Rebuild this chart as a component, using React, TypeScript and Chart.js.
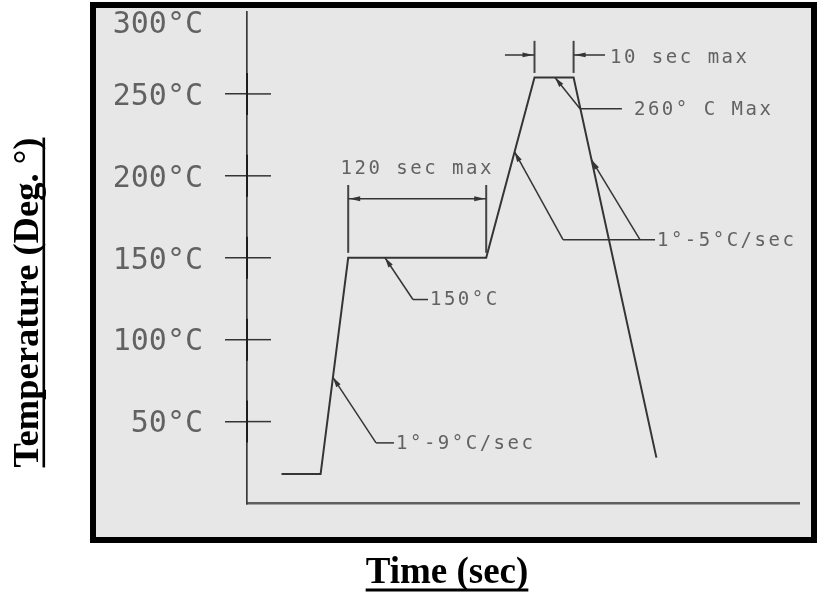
import React, { useEffect, useRef } from 'react';
import { Chart, registerables } from 'chart.js';

Chart.register(...registerables);

// ---- data ----
const timeSec = [30, 64, 88, 208, 250, 284, 356];
const tempC = [18, 18, 150, 150, 260, 260, 28];
const yTickValues = [0, 50, 100, 150, 200, 250, 300];
const yTickLabels = ['', '50°C', '100°C', '150°C', '200°C', '250°C', '300°C'];
const xTitle = 'Time (sec)';
const yTitle = 'Temperature (Deg. °)';

// leader annotations (data coordinates: [time, temp])
const leaderLabels = ['1°-9°C/sec', '150°C', '260° C Max', '1°-5°C/sec'];
const leaderTips: [number, number][][] = [
  [[74.7, 77]],
  [[120, 150]],
  [[267.8, 260]],
  [[232.7, 214.6], [299.6, 209.7]],
];
const leaderElbows: [number, number][][] = [
  [[112.2, 37]],
  [[144.3, 124.5]],
  [[289.6, 241]],
  [[274.8, 161], [341.7, 161]],
];
const leaderEnds: [number, number][] = [[127.8, 37], [157.4, 124.5], [326, 241], [354.8, 161]];
const leaderTextAt: [number, number][] = [[129.6, 37], [159.1, 124.5], [336.5, 241], [356.5, 161]];

// dimension annotations
const dimLabels = ['120 sec max', '10 sec max'];
const dimFrom = [88, 250];
const dimTo = [208, 284];
const dimExtLow = [153, 262.8];
const dimExtHigh = [194.4, 282.4];
const dimArrowTemp = [186, 273.8];
const dimOuterFrom = [null, 224.3];
const dimOuterTo = [null, 311.3];
const dimTextAt: [number, number][] = [[148, 204.8], [315.7, 272.6]];

const LINE = '#353535';
const TEXT = '#626262';
const ANNOT_FONT = '19px "DejaVu Sans Mono", monospace';
const TICK_FONT = '30px "DejaVu Sans Mono", monospace';

function arrowHead(ctx: CanvasRenderingContext2D, tx: number, ty: number, fx: number, fy: number, len = 10, hw = 2.6) {
  const a = Math.atan2(ty - fy, tx - fx);
  ctx.save();
  ctx.translate(tx, ty);
  ctx.rotate(a);
  ctx.beginPath();
  ctx.moveTo(0, 0);
  ctx.lineTo(-len, -hw);
  ctx.lineTo(-len, hw);
  ctx.closePath();
  ctx.fill();
  ctx.restore();
}

const framePlugin = {
  id: 'frame',
  beforeDraw(chart: any) {
    const ctx: CanvasRenderingContext2D = chart.ctx;
    ctx.save();
    ctx.fillStyle = '#ffffff';
    ctx.fillRect(0, 0, chart.width, chart.height);
    ctx.fillStyle = '#e7e7e7';
    ctx.fillRect(93, 5, 721, 535);
    ctx.strokeStyle = '#000000';
    ctx.lineWidth = 6;
    ctx.strokeRect(93, 5, 721, 535);
    ctx.restore();
  },
};

const annotPlugin = {
  id: 'annot',
  afterDraw(chart: any) {
    const ctx: CanvasRenderingContext2D = chart.ctx;
    const xs = chart.scales.x;
    const ys = chart.scales.y;
    const px = (t: number) => xs.getPixelForValue(t);
    const py = (v: number) => ys.getPixelForValue(v);
    const left = chart.chartArea.left;
    ctx.save();

    // inner half of the y-axis cross ticks + slightly darker axis segment at each tick
    ctx.strokeStyle = LINE;
    yTickValues.forEach((v, i) => {
      if (!yTickLabels[i] || v === 300) return;
      ctx.lineWidth = 1.5;
      ctx.beginPath();
      ctx.moveTo(left, py(v));
      ctx.lineTo(left + 24, py(v));
      ctx.stroke();
      ctx.save();
      ctx.strokeStyle = '#1e1e1e';
      ctx.lineWidth = 2;
      ctx.beginPath();
      ctx.moveTo(left, py(v) - 21);
      ctx.lineTo(left, py(v) + 21);
      ctx.stroke();
      ctx.restore();
    });

    // top tick label (drawn slightly lowered, as in the reference)
    ctx.fillStyle = TEXT;
    ctx.font = TICK_FONT;
    ctx.textAlign = 'right';
    ctx.textBaseline = 'middle';
    ctx.fillText(yTickLabels[yTickLabels.length - 1], left - 44, py(300) + 13);

    // leaders
    ctx.strokeStyle = LINE;
    ctx.fillStyle = LINE;
    ctx.lineWidth = 1.5;
    leaderLabels.forEach((label, i) => {
      const tips = leaderTips[i];
      const elbows = leaderElbows[i];
      tips.forEach((tp, j) => {
        const e = elbows[j];
        ctx.beginPath();
        ctx.moveTo(px(tp[0]), py(tp[1]));
        ctx.lineTo(px(e[0]), py(e[1]));
        ctx.stroke();
        arrowHead(ctx, px(tp[0]), py(tp[1]), px(e[0]), py(e[1]));
      });
      const e0 = elbows[0];
      const end = leaderEnds[i];
      ctx.beginPath();
      ctx.moveTo(px(e0[0]), py(e0[1]));
      ctx.lineTo(px(end[0]), py(end[1]));
      ctx.stroke();
      ctx.save();
      ctx.fillStyle = TEXT;
      ctx.font = ANNOT_FONT;
      (ctx as any).letterSpacing = '2.5px';
      ctx.textAlign = 'left';
      ctx.textBaseline = 'middle';
      ctx.fillText(label, px(leaderTextAt[i][0]), py(leaderTextAt[i][1]) + 1);
      ctx.restore();
    });

    // dimensions
    dimLabels.forEach((label, i) => {
      ctx.strokeStyle = '#444';
      ctx.lineWidth = 2;
      [dimFrom[i], dimTo[i]].forEach((t) => {
        ctx.beginPath();
        ctx.moveTo(px(t), py(dimExtLow[i]));
        ctx.lineTo(px(t), py(dimExtHigh[i]));
        ctx.stroke();
      });
      ctx.strokeStyle = LINE;
      ctx.lineWidth = 1.5;
      const ay = py(dimArrowTemp[i]);
      const of = dimOuterFrom[i];
      const ot = dimOuterTo[i];
      if (of === null || ot === null) {
        ctx.beginPath();
        ctx.moveTo(px(dimFrom[i]), ay);
        ctx.lineTo(px(dimTo[i]), ay);
        ctx.stroke();
        arrowHead(ctx, px(dimFrom[i]) + 1, ay, px(dimTo[i]), ay, 11, 2.4);
        arrowHead(ctx, px(dimTo[i]) - 1, ay, px(dimFrom[i]), ay, 11, 2.4);
      } else {
        ctx.beginPath();
        ctx.moveTo(px(of), ay);
        ctx.lineTo(px(dimFrom[i]), ay);
        ctx.moveTo(px(ot), ay);
        ctx.lineTo(px(dimTo[i]), ay);
        ctx.stroke();
        arrowHead(ctx, px(dimFrom[i]) - 1, ay, px(of), ay, 11, 2.4);
        arrowHead(ctx, px(dimTo[i]) + 1, ay, px(ot), ay, 11, 2.4);
      }
      ctx.save();
      ctx.fillStyle = TEXT;
      ctx.font = ANNOT_FONT;
      (ctx as any).letterSpacing = '2.5px';
      ctx.textAlign = of === null ? 'center' : 'left';
      ctx.textBaseline = 'middle';
      ctx.fillText(label, px(dimTextAt[i][0]), py(dimTextAt[i][1]) + 1);
      ctx.restore();
    });

    // axis titles (bold serif, underlined)
    ctx.fillStyle = '#000';
    ctx.font = 'bold 37px "Liberation Serif", "Times New Roman", serif';
    ctx.textAlign = 'center';
    ctx.textBaseline = 'alphabetic';
    const wx = ctx.measureText(xTitle).width;
    ctx.fillText(xTitle, 447, 583);
    ctx.fillRect(447 - wx / 2, 588.5, wx, 3);

    ctx.save();
    ctx.font = 'bold 36.5px "Liberation Serif", "Times New Roman", serif';
    ctx.translate(38, 302.5);
    ctx.rotate(-Math.PI / 2);
    const wy = ctx.measureText(yTitle).width;
    ctx.fillText(yTitle, 0, 0);
    ctx.fillRect(-wy / 2, 4.5, wy, 2.6);
    ctx.restore();

    ctx.restore();
  },
};

export default function App() {
  const ref = useRef<HTMLCanvasElement>(null);
  useEffect(() => {
    const canvas = ref.current;
    if (!canvas) return;
    const chart = new Chart(canvas, {
      type: 'line',
      data: {
        datasets: [
          {
            data: timeSec.map((t, i) => ({ x: t, y: tempC[i] })),
            borderColor: LINE,
            borderWidth: 2,
            pointRadius: 0,
            tension: 0,
            fill: false,
          },
        ],
      },
      options: {
        responsive: false,
        animation: false,
        events: [],
        layout: { padding: { left: 0, right: 25, top: 12, bottom: 91.5 } },
        plugins: { legend: { display: false }, tooltip: { enabled: false } },
        scales: {
          x: {
            type: 'linear',
            min: 0,
            max: 480,
            grid: { display: false, drawTicks: false },
            ticks: { display: false },
            border: { display: true, color: '#5f5f5f', width: 2.5 },
            afterFit: (s: any) => {
              s.height = 0;
              s.paddingLeft = 0;
              s.paddingRight = 0;
              s.paddingTop = 0;
              s.paddingBottom = 0;
            },
          },
          y: {
            type: 'linear',
            min: 0,
            max: 300,
            afterBuildTicks: (s: any) => {
              s.ticks = yTickValues.map((v) => ({ value: v }));
            },
            ticks: {
              callback: (v: any) => {
                const i = yTickValues.indexOf(Number(v));
                if (i < 0 || !yTickLabels[i] || Number(v) === 300) return null;
                return yTickLabels[i];
              },
              font: { family: '"DejaVu Sans Mono", monospace', size: 30 },
              color: TEXT,
              padding: 22,
              labelOffset: 3,
            },
            grid: { display: true, drawOnChartArea: false, drawTicks: true, tickLength: 22, color: LINE, lineWidth: 1.5 },
            border: { display: true, color: '#3a3a3a', width: 1.7 },
            afterFit: (s: any) => {
              s.width = 247;
              s.paddingTop = 0;
              s.paddingBottom = 0;
              s.paddingLeft = 0;
              s.paddingRight = 0;
            },
          },
        },
      } as any,
      plugins: [framePlugin, annotPlugin],
    });
    return () => chart.destroy();
  }, []);
  return (
    <div style={{ position: 'absolute', left: 0, top: 0, width: 824, height: 595 }}>
      <canvas ref={ref} width={824} height={595} style={{ display: 'block', width: 824, height: 595 }} />
    </div>
  );
}
